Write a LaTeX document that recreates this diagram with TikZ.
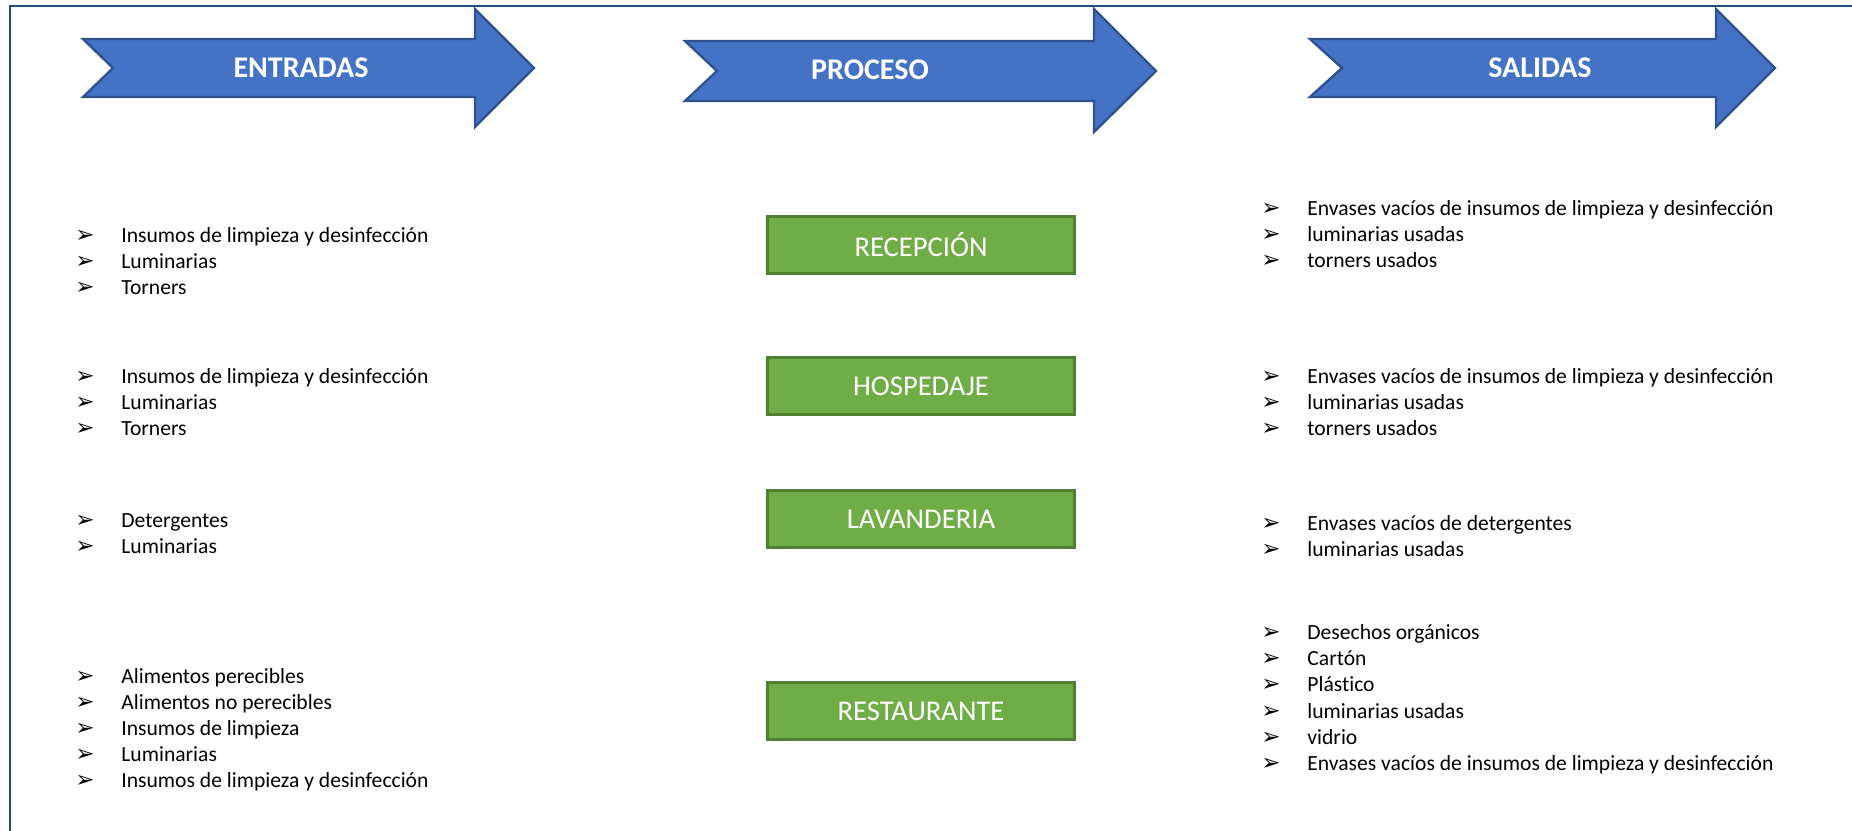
\documentclass[tikz,border=0pt]{standalone}
\usepackage{fontspec}
\setmainfont{Carlito}[Ligatures=NoCommon]
\newfontfamily\dejavu{DejaVu Sans}
\definecolor{framecol}{HTML}{1F4E79}
\definecolor{arrfill}{HTML}{4472C4}
\definecolor{arrline}{HTML}{2F528F}
\definecolor{boxfill}{HTML}{70AD47}
\definecolor{boxline}{HTML}{507E32}
\newcommand\li[4]{%
  \node[bul] (#1b) at (#2,#3+6) {➢};
  \node[itm] (#1) at (#2+46,#3+6) {#4};}
\begin{document}
\begin{tikzpicture}[x=0.5pt,y=-0.5pt,
  bigarrow/.style={fill=arrfill,draw=arrline,line width=1.2pt,line join=miter},
  arrtext/.style={text=white,inner sep=0pt,font=\fontsize{15}{17}\selectfont\bfseries},
  stage/.style={fill=boxfill,draw=boxline,line width=1.2pt,minimum width=153.5pt,minimum height=28.5pt,inner sep=0pt,text=white,font=\fontsize{14.3}{16}\selectfont},
  bul/.style={inner sep=0pt,anchor=base west,font=\dejavu\fontsize{11.5}{12}\selectfont},
  itm/.style={inner sep=0pt,anchor=base west,font=\fontsize{10.8}{12}\selectfont}]
\useasboundingbox (0,0) rectangle (1852,830);
\clip (0,0) rectangle (1852,830);
\draw[framecol,line width=1.4pt] (10,6) rectangle (1900,900);

% header arrows
\draw[bigarrow] (83,39) -- (475,39) -- (475,9) -- (534,68) -- (475,127) -- (475,97) -- (83,97) -- (113,68) -- cycle;
\draw[bigarrow] (685,41) -- (1094,41) -- (1094,9) -- (1156,71) -- (1094,132) -- (1094,101) -- (685,101) -- (717,71) -- cycle;
\draw[bigarrow] (1310,39) -- (1716,39) -- (1716,9) -- (1775,68) -- (1716,127) -- (1716,97) -- (1310,97) -- (1342,68) -- cycle;
\node[arrtext] (entradas) at (301,68) {ENTRADAS};
\node[arrtext] (proceso) at (870,70) {PROCESO};
\node[arrtext] (salidas) at (1540,68) {SALIDAS};

% process boxes
\node[stage] (recepcion) at (921,245) {RECEPCIÓN};
\node[stage] (hospedaje) at (921,386) {HOSPEDAJE};
\node[stage] (lavanderia) at (921,519) {LAVANDERIA};
\node[stage] (restaurante) at (921,711) {RESTAURANTE};

% inputs
\li{ea1}{75}{236}{Insumos de limpieza y desinfección}
\li{ea2}{75}{262}{Luminarias}
\li{ea3}{75}{288}{Torners}
\li{eb1}{75}{377}{Insumos de limpieza y desinfección}
\li{eb2}{75}{403}{Luminarias}
\li{eb3}{75}{429}{Torners}
\li{ec1}{75}{521}{Detergentes}
\li{ec2}{75}{547}{Luminarias}
\li{ed1}{75}{677}{Alimentos perecibles}
\li{ed2}{75}{703}{Alimentos no perecibles}
\li{ed3}{75}{729}{Insumos de limpieza}
\li{ed4}{75}{755}{Luminarias}
\li{ed5}{75}{781}{Insumos de limpieza y desinfección}

% outputs
\li{sa1}{1261}{209}{Envases vacíos de insumos de limpieza y desinfección}
\li{sa2}{1261}{235}{luminarias usadas}
\li{sa3}{1261}{261}{torners usados}
\li{sb1}{1261}{377}{Envases vacíos de insumos de limpieza y desinfección}
\li{sb2}{1261}{403}{luminarias usadas}
\li{sb3}{1261}{429}{torners usados}
\li{sc1}{1261}{524}{Envases vacíos de detergentes}
\li{sc2}{1261}{550}{luminarias usadas}
\li{sd1}{1261}{633}{Desechos orgánicos}
\li{sd2}{1261}{659}{Cartón}
\li{sd3}{1261}{685}{Plástico}
\li{sd4}{1261}{712}{luminarias usadas}
\li{sd5}{1261}{738}{vidrio}
\li{sd6}{1261}{764}{Envases vacíos de insumos de limpieza y desinfección}
\end{tikzpicture}
\end{document}
